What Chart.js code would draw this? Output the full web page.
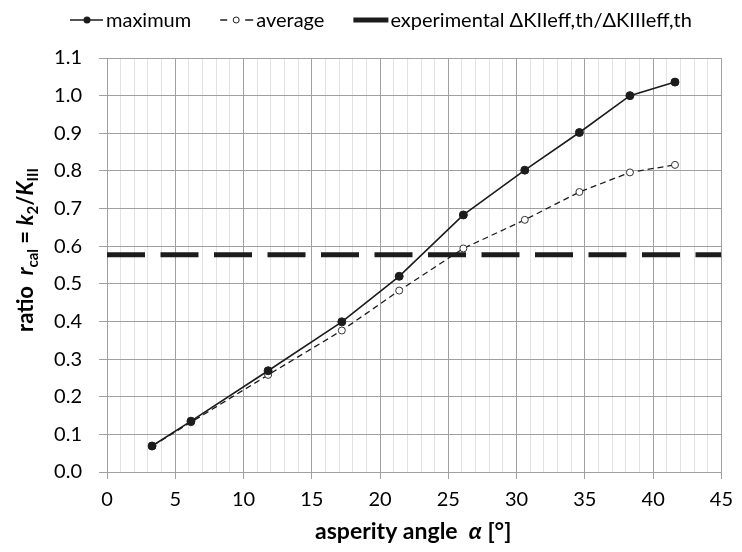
<!DOCTYPE html>
<html>
<head>
<meta charset="utf-8">
<script src="https://cdn.jsdelivr.net/npm/chart.js@4.4.1/dist/chart.umd.min.js"></script>
<style>
  body { margin: 0; background: #fff; }
  .chart { width: 742px; height: 552px; }
</style>
</head>
<body>
<div class="chart"><canvas id="myChart" width="742" height="552"></canvas></div>
<script>
// asperity angle (deg)
const angles = [3.3, 6.15, 11.8, 17.2, 21.4, 26.1, 30.6, 34.6, 38.3, 41.6];
// ratio r_cal, maximum and average
const maxRatio = [0.069, 0.135, 0.269, 0.399, 0.520, 0.683, 0.802, 0.902, 1.000, 1.036];
const avgRatio = [0.069, 0.132, 0.258, 0.376, 0.482, 0.594, 0.670, 0.744, 0.796, 0.816];
// experimental threshold ratio, drawn across the whole x range
const expX = [0, 45];
const expRatio = [0.577, 0.577];

const seriesNames = ["maximum", "average", "experimental \u0394KIIeff,th/\u0394KIIIeff,th"];

const xMin = 0, xMax = 45, xMajor = 5, xMinor = 1;
const yMin = 0, yMax = 1.1, yStep = 0.1;

const FONT = "Lato, 'Liberation Sans', sans-serif";
const majorGrid = "#a0a0a0";
const minorGrid = "#e2e2e2";
const ink = "#1c1c1c";

const toPoints = (xs, ys) => xs.map((x, i) => ({ x: x, y: ys[i] }));

// draws a row of text runs (bold/italic/subscript) centred on cx, on baseline y
function drawRuns(ctx, runs, cx, y, size) {
  const fontOf = r => `${r.i ? "italic " : ""}bold ${r.sub ? Math.round(size * 0.68) : size}px ${FONT}`;
  let total = 0;
  runs.forEach(r => {
    ctx.font = fontOf(r);
    r.w = ctx.measureText(r.t).width;
    total += r.w;
  });
  let x = cx - total / 2;
  ctx.textAlign = "left";
  ctx.textBaseline = "alphabetic";
  runs.forEach(r => {
    ctx.font = fontOf(r);
    ctx.fillText(r.t, x, y + (r.sub ? size * 0.22 : 0));
    x += r.w;
  });
}

const titlesPlugin = {
  id: "axisTitles",
  afterDraw(chart) {
    const ctx = chart.ctx;
    const area = chart.chartArea;
    ctx.save();
    ctx.fillStyle = "#000";
    drawRuns(ctx, [
      { t: "asperity angle  " },
      { t: "\u03b1", i: true },
      { t: " [\u00b0]" }
    ], (area.left + area.right) / 2 - 1, 539, 23);

    ctx.translate(33, 250);
    ctx.rotate(-Math.PI / 2);
    drawRuns(ctx, [
      { t: "ratio  " },
      { t: "r", i: true },
      { t: "cal", sub: true },
      { t: " = " },
      { t: "k", i: true },
      { t: "2", sub: true },
      { t: "/" },
      { t: "K", i: true },
      { t: "III", sub: true }
    ], 0, 0, 22);
    ctx.restore();
  }
};

const legendPlugin = {
  id: "lineLegend",
  afterDraw(chart) {
    const ctx = chart.ctx;
    const y = 20;
    let x = 70;
    ctx.save();
    ctx.font = `20px ${FONT}`;
    ctx.textBaseline = "middle";
    ctx.textAlign = "left";
    chart.data.datasets.forEach((ds, i) => {
      ctx.strokeStyle = ink;
      if (i === 0) {
        ctx.lineWidth = 1.6;
        ctx.beginPath(); ctx.moveTo(x, y); ctx.lineTo(x + 33, y); ctx.stroke();
        ctx.fillStyle = ink;
        ctx.beginPath(); ctx.arc(x + 17, y, 3.5, 0, Math.PI * 2); ctx.fill();
      } else if (i === 1) {
        ctx.lineWidth = 1.3;
        ctx.beginPath();
        ctx.moveTo(x, y); ctx.lineTo(x + 7, y);
        ctx.moveTo(x + 25, y); ctx.lineTo(x + 33, y);
        ctx.stroke();
        ctx.fillStyle = "#fff";
        ctx.lineWidth = 1;
        ctx.beginPath(); ctx.arc(x + 16, y, 3, 0, Math.PI * 2); ctx.fill(); ctx.stroke();
      } else {
        ctx.lineWidth = 5;
        ctx.beginPath(); ctx.moveTo(x, y); ctx.lineTo(x + 35, y); ctx.stroke();
        x += 1;
      }
      x += 36;
      ctx.fillStyle = "#000";
      ctx.fillText(ds.label, x, y + 1);
      x += ctx.measureText(ds.label).width + 29;
    });
    ctx.restore();
  }
};

const config = {
  type: "line",
  data: {
    datasets: [
      {
        label: seriesNames[0],
        data: toPoints(angles, maxRatio),
        borderColor: ink,
        backgroundColor: ink,
        borderWidth: 1.6,
        pointRadius: 4,
        pointBorderWidth: 1,
        pointBackgroundColor: ink,
        pointBorderColor: ink
      },
      {
        label: seriesNames[1],
        data: toPoints(angles, avgRatio),
        borderColor: ink,
        borderWidth: 1.3,
        borderDash: [6, 4],
        pointRadius: 3.5,
        pointBorderWidth: 1,
        pointBackgroundColor: "#fff",
        pointBorderColor: "#333"
      },
      {
        label: seriesNames[2],
        data: toPoints(expX, expRatio),
        borderColor: ink,
        borderWidth: 5,
        borderDash: [38, 15.5],
        pointRadius: 0
      }
    ]
  },
  options: {
    responsive: false,
    animation: false,
    layout: { padding: { top: 58, right: 13, left: 0, bottom: 0 } },
    plugins: {
      legend: { display: false },
      tooltip: { enabled: false },
      title: { display: false }
    },
    scales: {
      x: {
        type: "linear",
        min: xMin,
        max: xMax,
        afterFit: s => { s.height = 80; },
        border: { color: majorGrid },
        grid: {
          color: c => (c.tick && c.tick.value % xMajor === 0 ? majorGrid : minorGrid),
          tickColor: c => (c.tick && c.tick.value % xMajor === 0 ? majorGrid : "rgba(0,0,0,0)"),
          tickLength: 7
        },
        ticks: {
          stepSize: xMinor,
          autoSkip: false,
          maxRotation: 0,
          padding: 9,
          color: "#000",
          font: { family: FONT, size: 20 },
          callback: v => (v % xMajor === 0 ? String(v) : "")
        }
      },
      y: {
        min: yMin,
        max: yMax,
        afterFit: s => { s.width = 107; },
        border: { color: majorGrid },
        grid: { color: majorGrid, tickColor: majorGrid, tickLength: 8 },
        ticks: {
          stepSize: yStep,
          padding: 17,
          color: "#000",
          font: { family: FONT, size: 20 },
          callback: v => v.toFixed(1)
        }
      }
    }
  },
  plugins: [titlesPlugin, legendPlugin]
};

new Chart(document.getElementById("myChart"), config);
</script>
</body>
</html>
